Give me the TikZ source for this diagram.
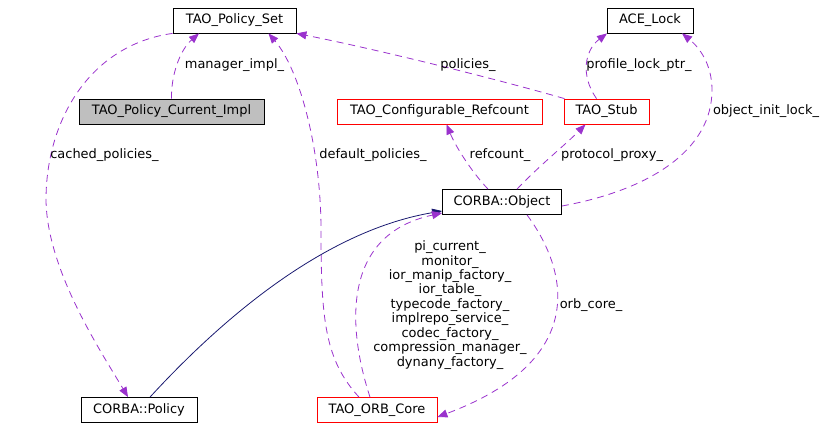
\documentclass[tikz,border=0pt]{standalone}
\usepackage{fontspec}
\setmainfont{DejaVu Sans}
\usetikzlibrary{arrows.meta}
\definecolor{mpurple}{rgb}{0.604, 0.196, 0.804}
\definecolor{mnavy}{rgb}{0.098, 0.098, 0.439}
\definecolor{mgray}{rgb}{0.75, 0.75, 0.75}
\tikzset{cls/.style = {draw, minimum height=25bp, inner sep=0pt,
                       font=\fontsize{13}{14.5}\selectfont},
         usage/.style = {mpurple, dash pattern=on 7bp off 5bp,
                         -{Triangle[length=10bp, width=8bp]}},
         inherit/.style = {mnavy, -{Triangle[length=10bp, width=8bp]}},
         lbl/.style = {black, align=center, inner sep=0pt,
                       font=\fontsize{13}{14.5}\selectfont}}

\begin{document}
\begin{tikzpicture}[x=1bp, y=-1bp, line width=0.8bp]
    \useasboundingbox (0, 0) rectangle (829, 429);

    \node [cls, minimum width=123bp] (policyset) at (234.5, 20.5) {TAO\_Policy\_Set};
    \node [cls, minimum width=86bp] (acelock) at (650, 20.5) {ACE\_Lock};
    \node [cls, minimum width=185bp, fill=mgray] (current) at (171.5, 111.5) {TAO\_Policy\_Current\_Impl};
    \node [cls, minimum width=205bp, draw=red] (refcount) at (439.5, 111.5) {TAO\_Configurable\_Refcount};
    \node [cls, minimum width=85bp, draw=red] (stub) at (606.5, 111.5) {TAO\_Stub};
    \node [cls, minimum width=119bp] (object) at (502, 202) {CORBA::Object};
    \node [cls, minimum width=116bp] (policy) at (139, 410) {CORBA::Policy};
    \node [cls, minimum width=120bp, draw=red] (orbcore) at (377, 410) {TAO\_ORB\_Core};

    \draw [usage] (current.north) .. controls (171, 75) and (180, 50) .. ([xshift=-35.5bp]policyset.south)
        node [lbl] at (234.5, 65) {manager\_impl\_};
    \draw [usage] ([xshift=-62bp]policyset.south) .. controls (90, 45) and (46, 120) .. (46, 200)
        .. controls (47, 270) and (100, 350) .. ([xshift=-11bp]policy.north)
        node [lbl] at (104.5, 155) {cached\_policies\_};
    \draw [usage] ([xshift=-18bp]orbcore.north) .. controls (325, 360) and (321, 320) .. (321, 230)
        .. controls (321, 150) and (300, 70) .. ([xshift=34bp]policyset.south)
        node [lbl] at (373, 155) {default\_policies\_};
    \draw [usage] ([xshift=-42bp]stub.north) .. controls (500, 80) and (380, 50) .. (policyset.south east)
        node [lbl] at (468, 65) {policies\_};
    \draw [usage] ([xshift=-10bp]stub.north) .. controls (580, 75) and (585, 50) .. ([xshift=-43bp]acelock.south)
        node [lbl] at (639, 65) {profile\_lock\_ptr\_};
    \draw [usage] ([yshift=-4bp]object.east) .. controls (650, 190) and (712, 150) .. (712, 90)
        .. controls (712, 65) and (700, 48) .. ([xshift=32bp]acelock.south)
        node [lbl] at (766, 111) {object\_init\_lock\_};
    \draw [usage] ([xshift=-14bp]object.north) .. controls (470, 170) and (455, 145) .. ([xshift=7bp]refcount.south)
        node [lbl] at (500, 155) {refcount\_};
    \draw [usage] ([xshift=15bp]object.north) .. controls (540, 165) and (565, 145) .. ([xshift=-21bp]stub.south)
        node [lbl] at (612, 155) {protocol\_proxy\_};
    \draw [inherit] ([xshift=11bp]policy.north) .. controls (230, 310) and (330, 230) .. ([yshift=-9bp]object.west);
    \draw [usage] ([xshift=-7bp]orbcore.north) .. controls (348, 330) and (340, 235) .. ([yshift=-11bp]object.west)
        node [lbl] at (450, 305) {pi\_current\_\\monitor\_\\ior\_manip\_factory\_\\ior\_table\_\\typecode\_factory\_\\implrepo\_service\_\\codec\_factory\_\\compression\_manager\_\\dynany\_factory\_};
    \draw [usage] ([xshift=25bp]object.south) .. controls (568, 270) and (590, 360) .. ([yshift=-7bp]orbcore.east)
        node [lbl] at (591, 305) {orb\_core\_};
\end{tikzpicture}
\end{document}
